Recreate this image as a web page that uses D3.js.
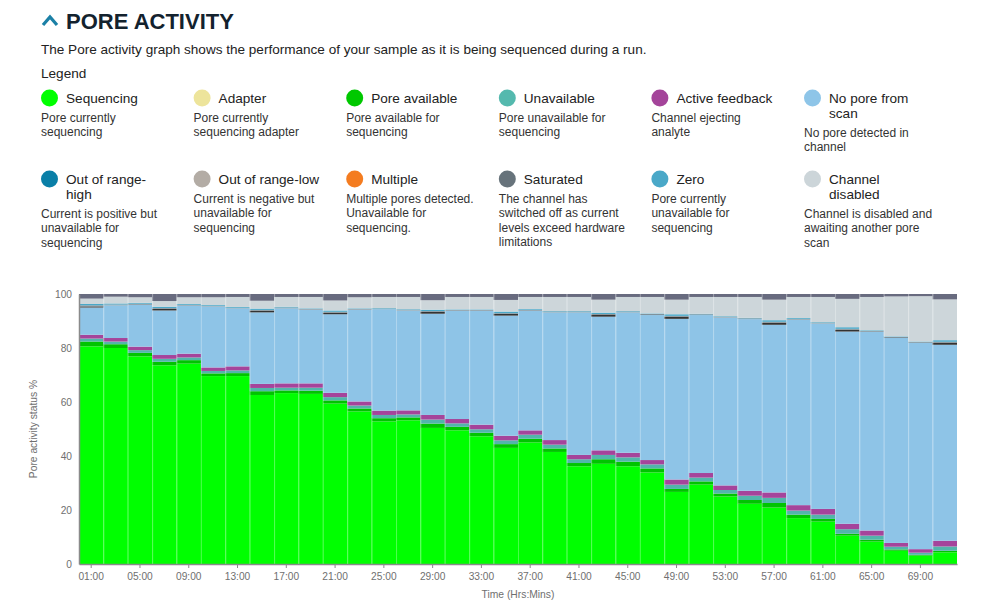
<!DOCTYPE html>
<html>
<head>
<meta charset="utf-8">
<script src="https://cdn.jsdelivr.net/npm/d3@7"></script>
<style>
  body { margin: 0; background: #fff; }
  svg { display: block; font-family: "Liberation Sans", Arial, sans-serif; }
</style>
</head>
<body>
<script>
// one bar every 2 hours
var times = ["01:00","03:00","05:00","07:00","09:00","11:00","13:00","15:00","17:00","19:00",
  "21:00","23:00","25:00","27:00","29:00","31:00","33:00","35:00","37:00","39:00",
  "41:00","43:00","45:00","47:00","49:00","51:00","53:00","55:00","57:00","59:00",
  "61:00","63:00","65:00","67:00","69:00","71:00"]

var sequencing = [80.6,80.0,76.9,73.6,74.2,69.6,69.6,62.6,63.3,63.0,59.4,56.5,52.8,53.2,50.4,49.5,47.3,43.0,45.0,41.5,36.2,37.1,36.2,33.9,26.7,29.4,25.0,22.3,20.9,17.0,15.7,10.5,8.3,4.9,3.1,4.3]
var poreAvailable = [1.8,1.4,1.3,1.3,1.3,1.0,1.1,1.4,1.0,1.2,1.2,1.1,1.2,1.1,1.6,1.3,1.3,1.4,1.4,1.3,1.2,1.7,1.7,1.5,1.1,1.2,1.1,1.4,1.7,1.3,1.0,0.7,0.7,0.5,0.3,0.6]
var unavailable = [1.1,1.0,1.0,1.1,1.0,0.9,1.0,1.2,1.0,1.1,1.2,1.1,1.2,1.1,1.5,1.3,1.3,1.4,1.5,1.4,1.4,1.6,1.6,1.5,1.6,1.4,1.3,1.6,1.9,1.5,1.6,1.7,1.5,1.0,0.8,1.6]
var activeFeedback = [1.4,1.3,1.3,1.4,1.4,1.3,1.5,1.5,1.6,1.6,1.6,1.5,1.6,1.5,1.7,1.6,1.7,1.7,1.6,1.7,1.6,1.7,1.7,1.6,1.9,1.7,1.7,1.8,2.0,2.0,2.1,2.0,1.9,1.4,1.3,2.1]
var noPore = [10.1,12.1,15.5,16.5,17.8,22.6,21.5,26.5,27.8,27.3,29.1,34.0,37.6,37.0,37.5,40.1,42.2,44.5,44.3,47.3,52.8,49.5,52.0,53.7,59.5,58.5,62.2,63.6,62.1,68.7,68.7,71.2,73.6,75.9,76.4,72.6]
var unclassified = [0.4,0,0,0.6,0,0,0,0.6,0,0,0.6,0,0,0,0.7,0,0,0.7,0,0,0,0.8,0,0,0.8,0,0,0,0.8,0,0,0.7,0,0,0,0.8]
var outOfRangeLow = [0.4,0.3,0.4,0.3,0.3,0.2,0.2,0.3,0.3,0.3,0.3,0.3,0.2,0.3,0.3,0.3,0.3,0.2,0.3,0.3,0.3,0.2,0.3,0.4,0.3,0.3,0.3,0.3,0.3,0.3,0.3,0.3,0.4,0.4,0.3,0.3]
var zero = [0.5,0.4,0.3,0.5,0.3,0.3,0.3,0.5,0.3,0.2,0.5,0.2,0.2,0.2,0.5,0.2,0.2,0.6,0.3,0.2,0.2,0.5,0.2,0.2,0.6,0.2,0.2,0.2,0.6,0.3,0.2,0.6,0.2,0.2,0.2,0.6]
var channelDisabled = [2.0,2.5,2.1,2.1,2.5,2.9,3.7,2.9,3.6,4.2,3.7,4.1,4.1,4.5,3.5,4.6,4.6,4.3,4.5,5.2,5.2,4.8,5.2,6.1,5.4,6.2,7.1,7.7,7.6,7.8,9.3,10.5,12.3,14.8,16.8,15.1]
var saturated = [1.7,1.0,1.2,2.6,1.2,1.2,1.1,2.5,1.1,1.1,2.4,1.2,1.1,1.1,2.3,1.1,1.1,2.2,1.1,1.1,1.1,2.1,1.1,1.1,2.1,1.1,1.1,1.1,2.1,1.1,1.1,1.8,1.1,0.9,0.8,2.0]

var yTicks = [0, 20, 40, 60, 80, 100]

var legendItems = [
  {label: ["Sequencing"], color: "#00ff00", desc: ["Pore currently", "sequencing"]},
  {label: ["Adapter"], color: "#ede49b", desc: ["Pore currently", "sequencing adapter"]},
  {label: ["Pore available"], color: "#00c800", desc: ["Pore available for", "sequencing"]},
  {label: ["Unavailable"], color: "#54b9ae", desc: ["Pore unavailable for", "sequencing"]},
  {label: ["Active feedback"], color: "#a4449a", desc: ["Channel ejecting", "analyte"]},
  {label: ["No pore from", "scan"], color: "#8ec5e8", desc: ["No pore detected in", "channel"]},
  {label: ["Out of range-", "high"], color: "#0a7fa7", desc: ["Current is positive but", "unavailable for", "sequencing"]},
  {label: ["Out of range-low"], color: "#b3aca5", desc: ["Current is negative but", "unavailable for", "sequencing"]},
  {label: ["Multiple"], color: "#f47c20", desc: ["Multiple pores detected.", "Unavailable for", "sequencing."]},
  {label: ["Saturated"], color: "#67737b", desc: ["The channel has", "switched off as current", "levels exceed hardware", "limitations"]},
  {label: ["Zero"], color: "#4aa8c8", desc: ["Pore currently", "unavailable for", "sequencing"]},
  {label: ["Channel", "disabled"], color: "#ccd5d9", desc: ["Channel is disabled and", "awaiting another pore", "scan"]}
]

var keys = ["sequencing","poreAvailable","unavailable","activeFeedback","noPore","unclassified","outOfRangeLow","zero","channelDisabled","saturated"]
var colors = {
  sequencing: "#00ff00", poreAvailable: "#00c400", unavailable: "#52b5ab", activeFeedback: "#a5449b",
  noPore: "#8ec4e7", unclassified: "#333333", outOfRangeLow: "#7f929c", zero: "#4aa8c8",
  channelDisabled: "#cdd6da", saturated: "#686b7f"
}
var series = {sequencing: sequencing, poreAvailable: poreAvailable, unavailable: unavailable,
  activeFeedback: activeFeedback, noPore: noPore, unclassified: unclassified, outOfRangeLow: outOfRangeLow,
  zero: zero, channelDisabled: channelDisabled, saturated: saturated}

var rows = times.map(function (t, i) {
  var r = {time: t}
  keys.forEach(function (k) { r[k] = series[k][i] })
  return r
})

var W = 1000, H = 611
var svg = d3.select("body").append("svg").attr("width", W).attr("height", H)

// header
svg.append("path")
  .attr("d", "M43,25 L50,17 L57,25")
  .attr("fill", "none").attr("stroke", "#1b80a6").attr("stroke-width", 3.2)
svg.append("text").attr("x", 66).attr("y", 29)
  .attr("font-size", 22).attr("font-weight", "bold").attr("fill", "#13222e")
  .text("PORE ACTIVITY")
svg.append("text").attr("x", 41).attr("y", 54)
  .attr("font-size", 13.55).attr("fill", "#222")
  .text("The Pore activity graph shows the performance of your sample as it is being sequenced during a run.")
svg.append("text").attr("x", 41).attr("y", 78)
  .attr("font-size", 13.6).attr("fill", "#222")
  .text("Legend")

// legend
var colW = 152.6
var lg = svg.append("g")
legendItems.forEach(function (d, i) {
  var cx = 41 + (i % 6) * colW
  var y0 = i < 6 ? 98 : 179
  var g = lg.append("g")
  g.append("circle").attr("cx", cx + 8.5).attr("cy", y0).attr("r", 8.5).attr("fill", d.color)
  d.label.forEach(function (l, j) {
    g.append("text").attr("x", cx + 25).attr("y", y0 + 5 + j * 15)
      .attr("font-size", 13.6).attr("fill", "#222").text(l)
  })
  var dy = y0 + (d.label.length - 1) * 15 + 19.5
  d.desc.forEach(function (l, j) {
    g.append("text").attr("x", cx).attr("y", dy + 4.3 + j * 14.5)
      .attr("font-size", 12).attr("fill", "#333").text(l)
  })
})

// chart
var m = {left: 79, right: 957, top: 294, bottom: 564}
var x = d3.scaleBand().domain(times).range([m.left, m.right]).padding(0)
var y = d3.scaleLinear().domain([0, 100]).range([m.bottom, m.top])

var stacked = d3.stack().keys(keys)(rows)

var bars = svg.append("g")
bars.selectAll("g").data(stacked).enter()
  .append("g")
  .attr("fill", function (d) { return colors[d.key] })
  .selectAll("rect").data(function (d) { return d }).enter()
  .append("rect")
  .attr("x", function (d) { return x(d.data.time) })
  .attr("width", x.bandwidth())
  .attr("y", function (d) { return y(Math.min(100, d[1])) })
  .attr("height", function (d) { return Math.max(0, y(d[0]) - y(Math.min(100, d[1]))) })

// faint separators between bars
svg.append("g").selectAll("line").data(times.slice(1)).enter()
  .append("line")
  .attr("x1", function (d) { return x(d) + 0.5 })
  .attr("x2", function (d) { return x(d) + 0.5 })
  .attr("y1", y(100)).attr("y2", y(0))
  .attr("stroke", "#fff").attr("stroke-opacity", 0.28)

var xAxis = d3.axisBottom(x)
  .tickValues(times.filter(function (d, i) { return i % 2 === 0 }))
  .tickSize(4).tickSizeOuter(0)
var gx = svg.append("g").attr("transform", "translate(0," + m.bottom + ")").call(xAxis)
gx.select(".domain").attr("stroke", "#8a8a8a").attr("stroke-width", 1.5)
gx.selectAll(".tick line").attr("stroke", "#8a8a8a")
gx.selectAll(".tick text").attr("font-size", 10.2).attr("fill", "#6f6f6f")
  .attr("font-family", "Liberation Sans, Arial, sans-serif").attr("dy", "0.9em")

var yAxis = d3.axisLeft(y).tickValues(yTicks).tickSize(0).tickPadding(7)
var gy = svg.append("g").attr("transform", "translate(" + m.left + ",0)").call(yAxis)
gy.select(".domain").attr("stroke", "#8a8a8a").attr("stroke-width", 1.5)
gy.selectAll(".tick text").attr("font-size", 10.2).attr("fill", "#6f6f6f")
  .attr("font-family", "Liberation Sans, Arial, sans-serif")

svg.append("text")
  .attr("transform", "translate(37," + (m.top + m.bottom) / 2 + ") rotate(-90)")
  .attr("text-anchor", "middle").attr("font-size", 10.3).attr("fill", "#6f6f6f")
  .text("Pore activity status %")
svg.append("text").attr("x", (m.left + m.right) / 2).attr("y", 598)
  .attr("text-anchor", "middle").attr("font-size", 10.3).attr("fill", "#6f6f6f")
  .text("Time (Hrs:Mins)")
</script>
</body>
</html>
